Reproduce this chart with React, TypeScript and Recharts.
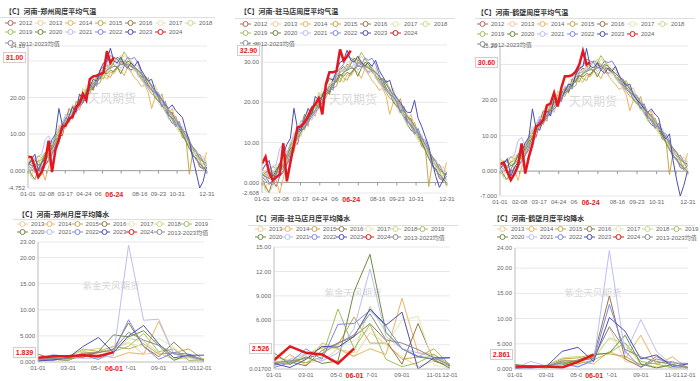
import React from 'react';
import { LineChart, Line, XAxis, YAxis, CartesianGrid, ReferenceLine } from 'recharts';

// weekly mean temperature (°C), one value per week starting 01-01
const weekDays = Array.from({ length: 53 }, (_, i) => i * 7);

const tempYears: Record<string, number[]> = {
  '2012': [1.5, 0.5, -0.5, 0.5, -1.0, 1.5, 3.0, 4.5, 6.0, 10.0, 9.5, 13.5, 15.0, 16.0, 18.5, 19.0, 20.5, 19.5, 23.0, 22.5, 25.0, 26.5, 27.5, 28.0, 29.5, 29.0, 28.0, 30.0, 29.5, 28.5, 27.5, 28.5, 26.5, 26.0, 24.0, 23.5, 22.0, 21.5, 20.0, 18.5, 17.5, 15.5, 16.0, 12.5, 11.5, 10.0, 8.5, 6.5, 4.0, 3.5, 1.0, 0.5, -0.5],
  '2013': [0.0, -1.5, 1.0, 2.5, 3.5, 2.0, 5.5, 6.5, 9.0, 12.5, 11.0, 13.0, 16.5, 15.0, 18.0, 20.5, 21.0, 22.5, 21.5, 24.0, 25.5, 26.0, 25.5, 27.0, 28.5, 30.5, 31.0, 30.0, 31.5, 30.5, 30.0, 29.0, 28.5, 26.0, 25.0, 23.0, 22.5, 23.5, 20.5, 19.0, 18.5, 17.0, 15.0, 14.5, 13.0, 10.5, 9.5, 7.0, 6.0, 5.5, 3.0, 4.0, 2.5],
  '2014': [3.5, 2.5, 1.0, 3.0, 0.5, -2.608, 1.0, 5.0, 8.5, 11.0, 13.5, 14.0, 13.0, 17.5, 18.0, 16.5, 20.0, 22.0, 23.5, 22.0, 25.0, 27.5, 26.0, 25.0, 27.0, 26.5, 28.0, 27.5, 26.0, 28.5, 27.0, 25.5, 24.5, 23.0, 23.5, 21.5, 17.0, 20.0, 19.5, 18.0, 16.0, 15.5, 17.0, 13.5, 11.0, 9.5, 10.0, 6.5, 4.5, 3.0, 2.0, 1.5, 5.0],
  '2015': [2.0, 3.0, 2.5, 4.0, 3.5, 5.0, 4.0, 6.5, 8.0, 7.5, 12.0, 14.5, 15.5, 14.0, 19.0, 18.5, 21.5, 21.0, 22.5, 24.5, 23.5, 24.0, 27.0, 26.0, 25.5, 27.5, 28.0, 29.5, 30.0, 28.5, 29.0, 27.5, 27.0, 25.5, 24.0, 22.5, 21.0, 20.5, 19.0, 21.0, 17.0, 16.5, 14.0, 15.0, 12.0, 10.5, 9.0, -1.0, 5.0, 4.5, 3.0, 0.5, 1.5],
  '2016': [1.0, -1.0, -2.5, 0.5, 2.5, 4.0, 3.5, 7.0, 9.5, 10.5, 12.5, 14.0, 17.0, 16.0, 17.5, 19.5, 18.5, 22.0, 23.0, 22.0, 26.0, 25.0, 28.0, 29.0, 28.0, 29.5, 31.0, 30.5, 30.0, 29.5, 28.5, 28.0, 27.0, 25.5, 26.0, 24.5, 23.5, 21.0, 20.0, 17.5, 18.0, 14.5, 13.0, 12.5, 12.0, 9.0, 8.5, 7.5, 6.0, 4.0, 4.5, 2.5, 2.0],
  '2017': [2.5, 3.0, 1.5, 2.0, 4.5, 3.0, 6.0, 5.5, 7.0, 9.0, 10.5, 15.0, 14.5, 16.5, 16.0, 18.5, 20.5, 23.5, 22.0, 25.0, 26.5, 27.0, 28.5, 27.5, 30.0, 30.5, 29.5, 31.0, 30.0, 29.0, 28.5, 27.0, 27.5, 24.5, 25.0, 24.0, 21.5, 22.5, 18.5, 17.0, 17.5, 16.0, 14.0, 12.0, 10.5, 11.5, 9.0, 6.5, 5.5, 4.5, 3.5, 2.0, 3.5],
  '2018': [1.0, -2.0, -2.5, -1.0, 1.5, 2.0, 5.0, 8.0, 7.5, 11.5, 13.0, 11.5, 15.0, 18.0, 17.5, 19.0, 22.5, 21.0, 22.0, 24.5, 25.0, 27.0, 28.0, 28.5, 28.0, 30.0, 30.5, 31.5, 30.0, 29.5, 29.0, 28.5, 26.5, 25.5, 24.5, 23.0, 22.0, 21.0, 19.5, 18.5, 16.5, 14.0, 14.5, 13.0, 11.0, 9.5, 8.0, 7.0, 5.5, 4.0, 2.5, 1.0, -1.0],
  '2019': [0.5, 2.0, 1.5, 2.5, 3.0, 4.5, 3.0, 5.5, 9.0, 10.0, 11.5, 13.5, 14.5, 15.5, 17.0, 18.0, 20.5, 21.5, 21.0, 23.5, 24.5, 26.0, 25.0, 27.5, 28.5, 29.0, 28.0, 30.5, 32.5, 31.0, 29.5, 28.0, 26.5, 25.0, 24.5, 25.5, 23.0, 21.5, 20.5, 19.0, 17.0, 16.5, 15.0, 13.5, 12.0, 11.0, 9.5, 7.5, 6.5, 5.5, 3.0, 2.5, 0.5],
  '2020': [1.5, 2.5, 3.0, 1.5, 2.0, 4.5, 6.5, 7.0, 8.5, 9.0, 12.5, 13.0, 13.5, 16.0, 17.0, 19.5, 19.0, 21.5, 23.5, 22.5, 24.0, 25.5, 27.0, 26.5, 27.5, 27.0, 28.5, 26.5, 28.5, 30.0, 29.5, 28.5, 27.5, 26.5, 25.5, 23.5, 22.5, 20.0, 19.0, 18.0, 16.5, 15.0, 14.5, 13.0, 12.5, 10.0, 8.0, 6.0, 4.5, 3.0, 2.0, 1.0, 0.0],
  '2021': [-0.5, 0.5, 3.5, 4.0, 4.5, 8.5, 9.5, 7.0, 10.0, 11.5, 13.0, 15.5, 14.0, 16.5, 15.5, 18.0, 19.5, 20.0, 24.0, 23.0, 24.5, 26.5, 27.5, 28.0, 29.0, 28.5, 29.5, 28.0, 29.0, 28.0, 27.0, 28.5, 26.0, 25.0, 23.5, 22.5, 23.0, 20.5, 21.5, 19.0, 16.0, 14.5, 15.5, 13.5, 11.5, 12.0, 9.0, 8.5, 6.0, 5.5, 4.0, 3.0, 2.5],
  '2022': [2.0, 1.5, 0.0, -0.5, 1.0, 1.5, 2.5, 4.5, 7.0, 8.5, 12.0, 14.5, 13.5, 15.0, 16.5, 17.5, 18.5, 20.0, 22.5, 24.0, 23.0, 27.5, 28.5, 29.5, 31.5, 31.0, 30.5, 29.0, 29.5, 31.0, 30.5, 31.0, 29.5, 27.0, 24.5, 23.0, 22.0, 21.5, 20.0, 17.5, 19.0, 15.5, 14.0, 12.0, 13.5, 11.0, 10.5, 8.5, 4.0, 3.5, 1.5, 0.5, 1.5],
};

const t2023Zz = [1.5, 3.0, 4.5, 0.0, 2.0, 3.5, 6.0, 8.5, 10.0, 17.0, 12.5, 12.0, 15.0, 17.5, 16.0, 21.0, 19.5, 21.0, 23.0, 25.0, 24.5, 27.5, 29.5, 30.0, 33.5, 30.0, 29.5, 31.0, 29.0, 28.0, 29.5, 28.5, 30.0, 27.5, 26.0, 24.5, 25.0, 22.0, 20.5, 19.5, 18.0, 17.0, 18.0, 16.5, 15.5, 14.5, 11.0, 8.0, 3.5, -0.5, -4.752, -3.0, 1.0];
const t2023Zmd = [3.0, 4.5, 5.5, 1.5, 3.0, 4.5, 7.0, 9.5, 11.0, 18.5, 13.5, 13.0, 16.0, 18.5, 17.0, 21.5, 20.5, 21.5, 24.0, 26.0, 25.5, 28.0, 30.0, 30.5, 33.0, 30.5, 30.0, 31.5, 30.0, 29.0, 30.0, 29.0, 30.5, 28.0, 26.5, 25.0, 25.5, 22.5, 21.0, 20.0, 18.5, 17.5, 17.5, 20.5, 16.0, 14.0, 11.5, 9.0, 5.0, 1.5, -1.2, 0.5, 2.5];
const t2023Hb = [0.5, 2.0, 3.5, -1.5, 1.0, 2.5, 5.5, 8.0, 9.5, 17.5, 12.0, 11.5, 14.5, 17.0, 15.5, 20.5, 19.0, 20.5, 22.5, 24.5, 24.0, 27.0, 29.0, 29.5, 34.5, 29.5, 29.0, 30.5, 28.5, 27.5, 29.0, 28.0, 29.5, 27.0, 25.5, 24.0, 24.5, 21.5, 20.0, 19.0, 17.5, 16.5, 17.5, 16.0, 15.0, 10.5, 9.0, 10.5, 3.0, -2.5, -7.0, -4.0, 0.0];

const tAvg = [2, 1.5, 1, 1.5, 2, 3, 4.5, 6, 7.5, 9.5, 11, 12.5, 14, 15.5, 17, 18, 19.5, 20.5, 22, 23, 24.5, 25.5, 26.5, 27.5, 28, 28.5, 28.5, 29, 29, 29, 28.5, 28, 27.5, 26.5, 25.5, 24.5, 23, 22, 21, 19.5, 18, 16.5, 15.5, 14, 12.5, 11, 9.5, 8, 6.5, 5, 3.5, 2.5, 1.5];

const t2024Zz = [3.8, 3.7, 1.0, -1.8, -0.3, 2.5, 8.2, -0.4, 5.7, 8.4, 12.0, 12.4, 14.2, 14.7, 17.4, 18.3, 21.0, 19.2, 25.0, 25.8, 26.0, 26.4, 26.8, 32.7, 29.5, 31.0];
const t2024Zmd = [4.7, 6.4, 2.5, 0.6, 1.4, 2.0, 9.8, 0.3, 5.0, 9.5, 13.8, 14.0, 15.0, 16.5, 18.5, 19.5, 21.0, 17.0, 24.5, 27.5, 27.5, 27.8, 33.2, 30.4, 31.5, 32.9];
const t2024Hb = [2.0, 2.4, -0.2, -2.5, -0.8, 1.5, 7.8, -0.7, 4.0, 7.5, 12.5, 13.2, 14.5, 18.5, 19.0, 22.0, 18.2, 23.4, 26.7, 26.7, 27.0, 28.0, 30.0, 33.8, 30.0, 30.6];

// monthly mean precipitation, one value per month starting 01-01
const months = [0, 1, 2, 3, 4, 5, 6, 7, 8, 9, 10, 11];

const zzRain: Record<string, number[]> = {
  '2013': [0.3, 0.8, 0.5, 1.2, 1.0, 2.5, 3.8, 1.5, 1.8, 0.5, 0.8, 0.1],
  '2014': [0.2, 0.6, 0.4, 2.0, 1.5, 0.8, 1.8, 1.5, 7.8, 1.5, 1.2, 0.3],
  '2015': [0.4, 0.5, 0.8, 2.5, 2.0, 3.0, 2.5, 3.5, 1.5, 1.8, 2.5, 0.4],
  '2016': [0.2, 0.5, 0.3, 1.5, 1.8, 2.5, 7.5, 3.0, 1.0, 3.8, 1.2, 0.5],
  '2017': [0.5, 0.8, 0.6, 1.8, 0.9, 2.8, 3.5, 3.0, 4.5, 2.8, 0.2, 0.1],
  '2018': [0.8, 0.4, 1.2, 2.2, 2.6, 1.8, 4.5, 4.0, 1.8, 0.5, 1.0, 0.6],
  '2019': [0.1, 0.9, 0.3, 1.6, 1.2, 2.0, 3.0, 5.5, 2.0, 2.5, 0.3, 0.4],
  '2020': [1.5, 0.6, 0.7, 0.9, 2.0, 5.2, 4.8, 6.0, 3.2, 0.3, 1.5, 0.1],
  '2021': [0.3, 1.5, 0.9, 0.7, 0.8, 1.2, 22.4, 8.0, 8.2, 1.5, 0.9, 0.2],
  '2022': [0.7, 0.3, 0.9, 1.3, 0.5, 2.0, 8.1, 3.0, 0.5, 1.8, 1.5, 0.3],
  '2023': [0.2, 0.4, 0.8, 3.0, 4.7, 1.8, 5.0, 7.0, 3.5, 0.8, 1.3, 1.3],
};
const zzRainAvg = [0.5, 0.7, 0.7, 1.7, 1.8, 2.3, 5.7, 4.2, 3.2, 1.6, 1.1, 0.4];
const zzRain2024 = [0.8, 1.1, 1.1, 1.3, 1.1, 1.839];

const zmdRain: Record<string, number[]> = {
  '2013': [0.5, 1.2, 0.8, 1.0, 2.5, 1.5, 4.5, 3.0, 1.5, 0.3, 1.0, 0.2],
  '2014': [0.3, 1.8, 0.5, 3.2, 2.5, 1.6, 2.5, 1.8, 8.7, 2.0, 1.8, 0.3],
  '2015': [0.8, 0.6, 1.8, 2.6, 3.0, 6.4, 3.2, 3.2, 1.2, 1.5, 2.5, 0.5],
  '2016': [0.6, 0.9, 0.4, 2.3, 3.2, 4.0, 5.6, 3.5, 0.6, 5.6, 1.0, 0.4],
  '2017': [0.9, 1.0, 1.5, 2.0, 2.8, 3.5, 5.0, 3.0, 6.0, 6.5, 0.5, 0.1],
  '2018': [1.0, 0.8, 1.8, 2.8, 2.5, 2.0, 7.7, 4.5, 2.5, 1.5, 1.5, 0.5],
  '2019': [1.5, 1.0, 0.8, 1.5, 7.4, 2.5, 5.5, 1.2, 0.3, 0.8, 1.8, 0.6],
  '2020': [2.0, 0.6, 1.5, 0.7, 1.0, 9.5, 14.1, 4.5, 2.5, 1.5, 1.2, 0.1],
  '2021': [0.4, 1.2, 1.9, 1.0, 2.0, 5.0, 12.3, 4.0, 2.5, 2.0, 1.5, 0.2],
  '2022': [0.2, 0.8, 2.5, 1.2, 5.5, 5.6, 7.2, 5.3, 2.5, 1.6, 1.2, 1.4],
  '2023': [0.7, 0.2, 1.2, 2.8, 2.7, 4.0, 7.4, 5.4, 7.0, 0.017, 1.4, 1.4],
};
const zmdRainAvg = [0.8, 1.0, 1.3, 1.9, 3.2, 4.2, 6.8, 3.6, 3.2, 2.4, 1.4, 0.5];
const zmdRain2024 = [1.1, 2.8, 2.0, 1.8, 0.7, 2.526];

const hbRain: Record<string, number[]> = {
  '2013': [0.3, 0.4, 0.5, 1.5, 1.2, 2.5, 8.2, 1.5, 1.0, 0.4, 0.8, 0.1],
  '2014': [0.2, 0.5, 0.3, 1.8, 1.5, 1.0, 3.5, 2.0, 6.7, 0.8, 2.4, 0.2],
  '2015': [0.4, 0.3, 0.6, 2.0, 2.2, 3.0, 3.0, 2.5, 0.8, 1.2, 1.5, 0.3],
  '2016': [0.1, 0.4, 0.2, 1.2, 1.6, 2.4, 14.5, 2.0, 0.4, 2.5, 0.8, 0.2],
  '2017': [0.2, 0.6, 0.4, 1.0, 0.8, 2.8, 6.0, 4.5, 2.0, 1.8, 0.1, 0.0],
  '2018': [0.5, 0.2, 0.8, 2.2, 2.5, 2.0, 6.2, 5.0, 1.0, 0.3, 0.6, 0.3],
  '2019': [0.1, 0.7, 0.2, 1.4, 1.0, 1.8, 3.2, 5.2, 1.5, 1.0, 0.2, 0.4],
  '2020': [0.9, 0.5, 0.5, 0.8, 1.8, 2.8, 3.2, 6.7, 1.0, 0.2, 0.9, 0.1],
  '2021': [0.2, 1.5, 0.6, 0.8, 0.5, 1.5, 23.5, 3.0, 9.8, 3.5, 0.7, 0.1],
  '2022': [0.5, 0.1, 0.6, 1.2, 0.4, 1.8, 12.8, 3.5, 0.3, 2.0, 1.2, 1.1],
  '2023': [0.1, 0.3, 0.5, 3.5, 4.3, 1.5, 10.2, 7.5, 2.0, 2.8, 0.5, 1.0],
};
const hbRainAvg = [0.3, 0.5, 0.5, 1.6, 1.6, 2.1, 8.4, 3.9, 2.4, 1.5, 0.9, 0.3];
const hbRain2024 = [0.5, 0.5, 0.5, 0.3, 1.4, 2.861];

const yearColors: Record<string, string> = {
  '2012': '#b8645e',
  '2013': '#f4cc9c',
  '2014': '#ecb45c',
  '2015': '#c9a64e',
  '2016': '#957848',
  '2017': '#e3e7b4',
  '2018': '#c4dc88',
  '2019': '#9fbf60',
  '2020': '#6e8c40',
  '2021': '#b9bff5',
  '2022': '#7d86e6',
  '2023': '#4b4fb6',
  '2024': '#e5161d',
  avg: '#8c8c8c',
};

const FONT = "'Liberation Sans', Arial, 'Noto Sans CJK SC', sans-serif";
const RED = '#e5161d';

const weekTicks = [0, 38, 76, 114, 152, 190, 228, 266, 304, 342, 365];
const weekLabels: Record<number, string> = {
  0: '01-01', 38: '02-08', 76: '03-17', 114: '04-24', 152: '06-01',
  228: '08-16', 266: '09-23', 304: '10-31', 365: '12-31',
};
const monthTicks = [0, 2, 4, 6, 8, 10, 11];
const monthLabels: Record<number, string> = {
  0: '01-01', 2: '03-01', 4: '05-01', 6: '07-01', 8: '09-01', 10: '11-01', 11: '12-01',
};

const fmt = (v: number) => v.toPrecision(4);

type Box = { x0: number; x1: number; y0: number; y1: number };

type PanelProps = {
  title: string; titleX: number; titleY: number;
  sep: [number, number, number];
  legendX: number; legendGap: number; legendYs: number[]; legendRows: string[][]; avgLabel: string;
  box: Box;
  xs: number[]; xDomain: [number, number]; xTicks: number[]; xLabels: Record<number, string>;
  pointerX: number; pointerText: string;
  yDomain: [number, number]; yTicks: number[];
  series: Record<string, number[]>; avg: number[]; current: number[];
  zeroLine: boolean;
  mark: { text: string; x: number; y: number; size: number };
};

const YW = 34;
const XH = 12;
const PT = 6; // room above the plot
const PR = 14; // room right of the plot

function Panel(p: PanelProps) {
  const { x0, x1, y0, y1 } = p.box;
  const [yMin, yMax] = p.yDomain;
  const [xMin, xMax] = p.xDomain;
  const keys = Object.keys(p.series);
  const rows = p.xs.map((x, i) => {
    const row: Record<string, number | undefined> = { x };
    keys.forEach((k) => { row['y' + k] = p.series[k][i]; });
    row.avg = p.avg[i];
    row.cur = p.current[i];
    return row;
  });
  const zeroY = PT + (yMax / (yMax - yMin)) * (y1 - y0);
  const lastVal = p.current[p.current.length - 1];
  const redY = y0 + ((yMax - lastVal) / (yMax - yMin)) * (y1 - y0);
  const redX = x0 + ((p.pointerX - xMin) / (xMax - xMin)) * (x1 - x0);

  const XTick = (t: any) => {
    const v = t.payload.value;
    const label = p.xLabels[v];
    return (
      <g>
        {p.zeroLine && <line x1={t.x} x2={t.x} y1={zeroY} y2={zeroY + 3} stroke="#999" />}
        {label && (
          <text x={t.x} y={t.y} dy={5.5} textAnchor="middle" fontSize={6} fill="#666" fontFamily={FONT}>{label}</text>
        )}
      </g>
    );
  };
  const YTick = (t: any) => (
    <text x={t.x} y={t.y} dy={2.1} textAnchor="end" fontSize={6} fill="#666" fontFamily={FONT}>
      {fmt(t.payload.value)}
    </text>
  );

  return (
    <>
      <div style={{ position: 'absolute', left: p.titleX, top: p.titleY - 5, fontSize: 7, lineHeight: '10px', fontWeight: 'bold', color: '#333', fontFamily: "'Noto Sans CJK SC', sans-serif", whiteSpace: 'nowrap' }}>
        {p.title}
      </div>
      <div style={{ position: 'absolute', left: p.sep[0], top: p.sep[2], width: p.sep[1] - p.sep[0], height: 1, background: '#dedede' }} />
      <div style={{ position: 'absolute', left: p.mark.x - 40, top: p.mark.y - p.mark.size * 0.7, width: 80, textAlign: 'center', fontSize: p.mark.size, color: 'rgba(150,150,150,0.4)', fontFamily: "'Noto Sans CJK SC', sans-serif", whiteSpace: 'nowrap' }}>
        {p.mark.text}
      </div>
      <div style={{ position: 'absolute', left: x0 - YW, top: y0 - PT }}>
        <LineChart width={x1 - x0 + YW + PR} height={y1 - y0 + PT + XH} data={rows} margin={{ top: PT, right: PR, bottom: 0, left: 0 }}>
          <CartesianGrid vertical={false} stroke="#e8e8e8" />
          <XAxis type="number" dataKey="x" domain={p.xDomain} ticks={p.xTicks} interval={0} height={XH}
            tickSize={0} tickMargin={2} tickLine={false}
            axisLine={p.zeroLine ? false : { stroke: '#c8c8c8' }} tick={XTick} allowDataOverflow />
          <YAxis type="number" domain={p.yDomain} ticks={p.yTicks} interval={0} width={YW}
            tickSize={0} tickMargin={3} tickLine={false} axisLine={{ stroke: '#bbb' }} tick={YTick} allowDataOverflow />
          {p.zeroLine && <ReferenceLine y={0} stroke="#a0a0a0" />}
          {keys.map((k) => (
            <Line key={k} type="linear" dataKey={'y' + k} stroke={yearColors[k]} strokeWidth={1} dot={false} isAnimationActive={false} />
          ))}
          <Line type="linear" dataKey="avg" stroke={yearColors.avg} strokeWidth={1} dot={false} isAnimationActive={false} />
          <Line type="linear" dataKey="cur" stroke={RED} strokeWidth={2.5} dot={false} isAnimationActive={false} />
        </LineChart>
      </div>
      {p.legendRows.map((row, r) =>
        row.map((name, i) => (
          <div key={name} style={{ position: 'absolute', left: p.legendX + i * p.legendGap, top: p.legendYs[r] - 5, height: 10, display: 'flex', alignItems: 'center', whiteSpace: 'nowrap' }}>
            <svg width={11} height={8} style={{ display: 'block' }}>
              <line x1={0} y1={4} x2={11} y2={4} stroke={yearColors[name]} />
              <circle cx={5.5} cy={4} r={2.5} fill="#fff" stroke={yearColors[name]} />
            </svg>
            <span style={{ marginLeft: 3, fontSize: 6, color: '#666', fontFamily: FONT }}>
              {name === 'avg' ? p.avgLabel : name}
            </span>
          </div>
        ))
      )}
      <div style={{ position: 'absolute', left: x0 - 25, top: redY - 5.5, width: 21, height: 9, border: '1px solid #e0c8c8', background: '#fff', color: RED, fontSize: 7, fontWeight: 'bold', lineHeight: '9px', textAlign: 'center', fontFamily: FONT }}>
        {fmt(lastVal)}
      </div>
      <div style={{ position: 'absolute', left: redX - 12, top: y1 + 0.5, width: 25, height: 11, background: '#fff', color: RED, fontSize: 7, fontWeight: 'bold', lineHeight: '11px', textAlign: 'center', fontFamily: FONT }}>
        {p.pointerText}
      </div>
    </>
  );
}

const tempRows = [
  ['2012', '2013', '2014', '2015', '2016', '2017', '2018'],
  ['2019', '2020', '2021', '2022', '2023', '2024'],
  ['avg'],
];
const rainRows = [
  ['2013', '2014', '2015', '2016', '2017', '2018', '2019'],
  ['2020', '2021', '2022', '2023', '2024', 'avg'],
];

const tempCommon = {
  legendRows: tempRows, avgLabel: '2012-2023均值', legendGap: 30,
  xs: weekDays, xDomain: [0, 365] as [number, number], xTicks: weekTicks, xLabels: weekLabels,
  pointerX: 175, pointerText: '06-24', avg: tAvg, zeroLine: true,
};
const rainCommon = {
  legendRows: rainRows, avgLabel: '2013-2023均值',
  xs: months, xDomain: [0, 11] as [number, number], xTicks: monthTicks, xLabels: monthLabels,
  pointerX: 5, pointerText: '06-01', zeroLine: false,
};

const panels: PanelProps[] = [
  {
    ...tempCommon,
    title: '【C】河南-郑州周度平均气温', titleX: 5, titleY: 11, sep: [0, 215, 17],
    legendX: 5, legendYs: [23, 32, 43],
    box: { x0: 28, x1: 207, y0: 46, y1: 188 },
    yDomain: [-4.752, 34.1], yTicks: [-4.752, 0, 10, 20, 30, 34.1],
    series: { ...tempYears, '2023': t2023Zz }, current: t2024Zz,
    mark: { text: '天风期货', x: 112, y: 97, size: 12 },
  },
  {
    ...tempCommon,
    title: '【C】河南-驻马店周度平均气温', titleX: 240, titleY: 11, sep: [235, 455, 18],
    legendX: 240, legendYs: [24, 33, 43],
    box: { x0: 262, x1: 447, y0: 45, y1: 193 },
    yDomain: [-2.608, 34.3], yTicks: [-2.608, 0, 10, 20, 30, 34.3],
    series: { ...tempYears, '2023': t2023Zmd }, current: t2024Zmd,
    mark: { text: '天风期货', x: 353, y: 98, size: 12 },
  },
  {
    ...tempCommon,
    title: '【C】河南-鹤壁周度平均气温', titleX: 477, titleY: 12, sep: [475, 695, 18],
    legendX: 477, legendYs: [24, 34, 44],
    box: { x0: 500, x1: 688, y0: 46, y1: 196 },
    yDomain: [-7, 35.2], yTicks: [-7, 0, 10, 20, 30, 35.2],
    series: { ...tempYears, '2023': t2023Hb }, current: t2024Hb,
    mark: { text: '天风期货', x: 593, y: 100, size: 12 },
  },
  {
    ...rainCommon,
    title: '【C】河南-郑州月度平均降水', titleX: 18, titleY: 214, sep: [13, 212, 219],
    legendX: 17, legendGap: 27.3, legendYs: [224, 232],
    box: { x0: 38, x1: 204, y0: 242, y1: 362 },
    yDomain: [0, 23], yTicks: [0, 5, 10, 15, 20, 23],
    series: zzRain, avg: zzRainAvg, current: zzRain2024,
    mark: { text: '紫金天风期货', x: 111, y: 285, size: 9.5 },
  },
  {
    ...rainCommon,
    title: '【C】河南-驻马店月度平均降水', titleX: 252, titleY: 218, sep: [248, 458, 225],
    legendX: 255, legendGap: 27, legendYs: [229, 237],
    box: { x0: 274, x1: 450, y0: 247, y1: 369 },
    yDomain: [0.017, 15], yTicks: [0.017, 3, 6, 9, 12, 15],
    series: zmdRain, avg: zmdRainAvg, current: zmdRain2024,
    mark: { text: '紫金天风期货', x: 353, y: 292, size: 9.5 },
  },
  {
    ...rainCommon,
    title: '【C】河南-鹤壁月度平均降水', titleX: 493, titleY: 218, sep: [493, 695, 225],
    legendX: 497, legendGap: 29, legendYs: [229, 237],
    box: { x0: 515, x1: 688, y0: 248, y1: 369 },
    yDomain: [0, 24], yTicks: [0, 5, 10, 15, 20, 24],
    series: hbRain, avg: hbRainAvg, current: hbRain2024,
    mark: { text: '紫金天风期货', x: 593, y: 292, size: 9.5 },
  },
];

export default function App() {
  return (
    <div style={{ position: 'absolute', left: 0, top: 0, width: 700, height: 381, background: '#fff', overflow: 'hidden', fontFamily: FONT }}>
      {panels.map((p, i) => (
        <Panel key={i} {...p} />
      ))}
    </div>
  );
}
